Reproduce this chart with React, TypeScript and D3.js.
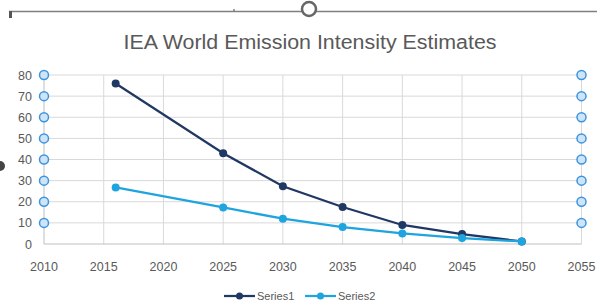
import React from 'react'
import * as d3 from 'd3'

const years = [2016, 2025, 2030, 2035, 2040, 2045, 2050]
const series1 = [76, 43, 27.3, 17.5, 9, 4.7, 1.2]
const series2 = [26.8, 17.3, 12, 8, 5, 2.8, 1.2]
const xTicks = [2010, 2015, 2020, 2025, 2030, 2035, 2040, 2045, 2050, 2055]
const yTicks = [0, 10, 20, 30, 40, 50, 60, 70, 80]
const handleTicks = [10, 20, 30, 40, 50, 60, 70, 80]

const W = 597
const H = 308
const FONT = '"Liberation Sans", Arial, sans-serif'
const TEXT = '#595959'
const C1 = '#203864'
const C2 = '#1ea4de'

export default function App() {
  const x = d3.scaleLinear().domain([2010, 2055]).range([44, 581.5])
  const y = d3.scaleLinear().domain([0, 80]).range([244, 75])

  const line = d3.line<number>()
    .x((_, i) => x(years[i]))
    .y(d => y(d))

  const series = [
    { name: 'Series1', values: series1, color: C1 },
    { name: 'Series2', values: series2, color: C2 },
  ]

  return (
    <svg width={W} height={H} style={{ position: 'fixed', left: 0, top: 0, background: '#fff' }}>
      {/* selection frame bits */}
      <line x1={9} x2={W} y1={11.5} y2={11.5} stroke="#7f7f7f" strokeWidth={1.5} />
      <rect x={9} y={11} width={3} height={7} fill="#555" />
      <circle cx={309} cy={9} r={7} fill="#fff" stroke="#666" strokeWidth={2.5} />
      <circle cx={234} cy={10} r={0.8} fill="#333" />
      <circle cx={0} cy={166} r={5} fill="#444" />

      <text x={310} y={49} textAnchor="middle" fontFamily={FONT} fontSize={20}
        textLength={373} lengthAdjust="spacingAndGlyphs" fill={TEXT}>
        IEA World Emission Intensity Estimates
      </text>

      {/* gridlines */}
      {yTicks.slice(1).map(t => (
        <line key={'gy' + t} x1={x(2010)} x2={x(2055)} y1={y(t)} y2={y(t)} stroke="#d9d9d9" strokeWidth={1} />
      ))}
      {xTicks.slice(1).map(t => (
        <line key={'gx' + t} x1={x(t)} x2={x(t)} y1={y(0)} y2={y(80)} stroke="#d9d9d9" strokeWidth={1} />
      ))}
      <line x1={x(2010)} x2={x(2010)} y1={y(0)} y2={y(80)} stroke="#bfbfbf" />
      <line x1={x(2010)} x2={x(2055)} y1={y(0)} y2={y(0)} stroke="#bfbfbf" />

      {yTicks.map(t => (
        <text key={'ty' + t} x={32} y={y(t) + 4.5} textAnchor="end" fontFamily={FONT} fontSize={12.5} fill={TEXT}>
          {t}
        </text>
      ))}
      {xTicks.map(t => (
        <text key={'tx' + t} x={x(t)} y={271} textAnchor="middle" fontFamily={FONT} fontSize={12.5} fill={TEXT}>
          {t}
        </text>
      ))}

      {series.map(s => (
        <g key={s.name}>
          <path d={line(s.values) || ''} fill="none" stroke={s.color} strokeWidth={2.25} />
          {s.values.map((v, i) => (
            <circle key={i} cx={x(years[i])} cy={y(v)} r={4} fill={s.color} />
          ))}
        </g>
      ))}

      {/* selection handles */}
      {handleTicks.map(t => (
        <g key={'h' + t}>
          <circle cx={x(2010)} cy={y(t)} r={4.5} fill="#cfe4f7" stroke="#3b94e0" strokeWidth={1.5} />
          <circle cx={x(2055)} cy={y(t)} r={4.5} fill="#cfe4f7" stroke="#3b94e0" strokeWidth={1.5} />
        </g>
      ))}

      {/* legend */}
      {series.map((s, i) => {
        const lx = 224 + i * 81
        return (
          <g key={'lg' + s.name}>
            <line x1={lx} x2={lx + 31} y1={296} y2={296} stroke={s.color} strokeWidth={2.25} />
            <circle cx={lx + 15.5} cy={296} r={3.5} fill={s.color} />
            <text x={lx + 33} y={300} fontFamily={FONT} fontSize={11} fill={TEXT}>{s.name}</text>
          </g>
        )
      })}
    </svg>
  )
}
